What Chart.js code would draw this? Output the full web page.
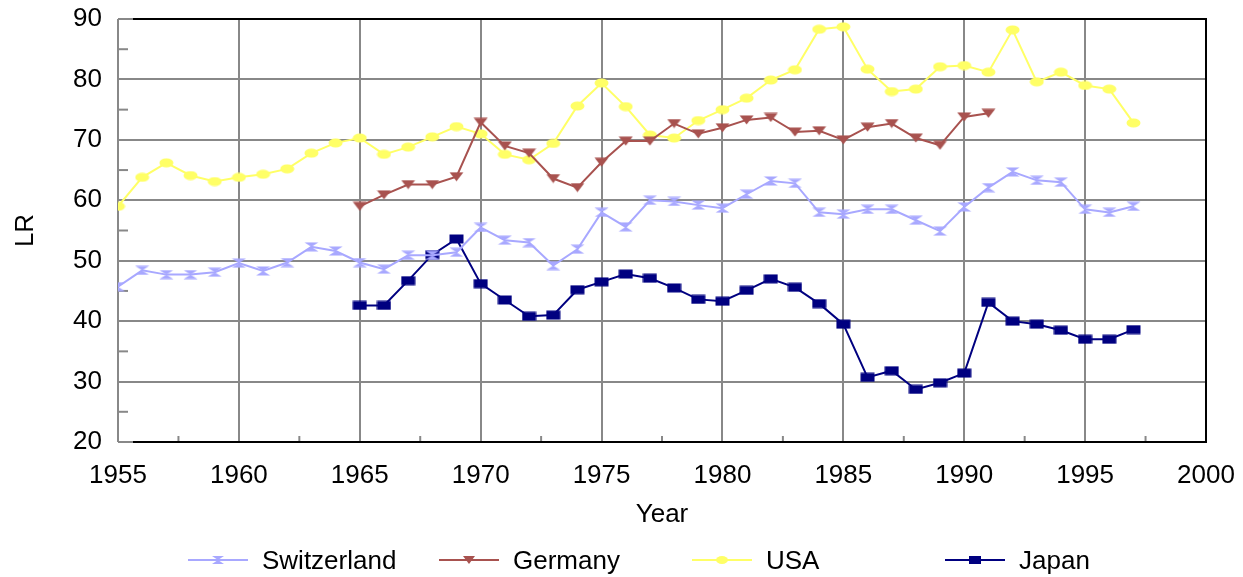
<!DOCTYPE html>
<html>
<head>
<meta charset="utf-8">
<script src="https://cdn.jsdelivr.net/npm/chart.js@4/dist/chart.umd.min.js"></script>
<style>
  html, body { margin: 0; padding: 0; background: #fff; overflow: hidden; }
  #wrap { position: relative; width: 1243px; height: 577px; }
  #legend { position: absolute; left: 0; top: 0; width: 1243px; height: 577px; pointer-events: none; }
  .item { position: absolute; top: 544px; height: 32px; display: flex; align-items: center; }
  .item span { font: 26px "Liberation Sans", Arial, sans-serif; color: #000; margin-left: 14px; }
</style>
</head>
<body>
<div id="wrap">
  <canvas id="c" width="1243" height="577"></canvas>
  <div id="legend"></div>
</div>
<script>
const years = [1955,1956,1957,1958,1959,1960,1961,1962,1963,1964,1965,1966,1967,1968,1969,1970,1971,1972,1973,1974,1975,1976,1977,1978,1979,1980,1981,1982,1983,1984,1985,1986,1987,1988,1989,1990,1991,1992,1993,1994,1995,1996,1997];

const switzerland = [45.7,48.4,47.7,47.7,48.1,49.6,48.3,49.7,52.3,51.6,49.7,48.6,50.9,50.9,51.4,55.5,53.4,53.0,49.2,51.9,58.0,55.6,60.0,59.8,59.2,58.7,61.0,63.2,62.8,58.0,57.7,58.5,58.5,56.7,54.9,58.9,62.1,64.7,63.3,63.0,58.5,58.0,59.0];

const germany = [null,null,null,null,null,null,null,null,null,null,59.0,60.9,62.6,62.6,63.9,72.9,69.0,67.8,63.6,62.1,66.3,69.8,69.8,72.7,71.0,72.0,73.3,73.7,71.3,71.5,70.0,72.1,72.7,70.3,69.1,73.8,74.4,null,null,null,null,null,null];

const usa = [59.0,63.8,66.2,64.1,63.1,63.8,64.3,65.2,67.8,69.5,70.3,67.6,68.8,70.5,72.2,71.0,67.6,66.7,69.4,75.6,79.4,75.5,70.8,70.3,73.2,75.0,76.9,79.9,81.6,88.3,88.7,81.7,78.0,78.4,82.1,82.3,81.2,88.2,79.6,81.2,79.0,78.4,72.8];

const japan = [null,null,null,null,null,null,null,null,null,null,42.6,42.6,46.7,51.0,53.6,46.2,43.5,40.8,41.0,45.2,46.5,47.8,47.1,45.5,43.6,43.3,45.1,47.0,45.6,42.9,39.5,30.7,31.8,28.7,29.8,31.4,43.1,40.0,39.5,38.5,37.0,37.0,38.6];

const seriesNames = ['Switzerland','Germany','USA','Japan'];
const seriesColors = ['#A8A8FF','#A8524F','#FFFF66','#000080'];
const seriesShapes = ['hourglass','triDown','ellipse','rect'];
const seriesValues = [switzerland, germany, usa, japan];

const xTicks = [1955,1960,1965,1970,1975,1980,1985,1990,1995,2000];
const yTicks = [20,30,40,50,60,70,80,90];

function drawShape(ctx, shape, cx, cy, w, h, color) {
  ctx.fillStyle = color;
  ctx.beginPath();
  const l = cx - w/2, r = cx + w/2, t = cy - h/2, b = cy + h/2;
  if (shape === 'hourglass') {
    ctx.moveTo(l, t); ctx.lineTo(r, t); ctx.lineTo(cx, cy); ctx.lineTo(r, b); ctx.lineTo(l, b); ctx.lineTo(cx, cy); ctx.closePath();
  } else if (shape === 'triDown') {
    ctx.moveTo(l, t); ctx.lineTo(r, t); ctx.lineTo(cx, b); ctx.closePath();
  } else if (shape === 'ellipse') {
    ctx.ellipse(cx, cy, w/2, h/2, 0, 0, Math.PI*2);
  } else {
    ctx.rect(l, t, w, h);
  }
  ctx.fill();
}

function markerCanvas(shape, color) {
  const c = document.createElement('canvas');
  c.width = 15; c.height = 10;
  drawShape(c.getContext('2d'), shape, 7.5, 5, 14, 9, color);
  return c;
}

const datasets = seriesNames.map((name, i) => ({
  label: name,
  data: years.map((yr, k) => ({ x: yr, y: seriesValues[i][k] })),
  borderColor: seriesColors[i],
  backgroundColor: seriesColors[i],
  borderWidth: 2,
  tension: 0,
  spanGaps: false,
  pointStyle: markerCanvas(seriesShapes[i], seriesColors[i]),
  pointRadius: 5,
  pointHoverRadius: 5
}));

const frame = {
  id: 'frame',
  beforeDatasetsDraw(chart) {
    const { ctx, chartArea: a, scales } = chart;
    ctx.save();
    ctx.strokeStyle = '#888888';
    ctx.lineWidth = 2;
    ctx.beginPath(); ctx.moveTo(a.left, a.top); ctx.lineTo(a.left, a.bottom); ctx.stroke();
    for (let v = 25; v < 90; v += 10) {
      const y = scales.y.getPixelForValue(v);
      ctx.beginPath(); ctx.moveTo(a.left, y); ctx.lineTo(a.left + 10, y); ctx.stroke();
    }
    for (let v = 1957.5; v < 2000; v += 5) {
      const x = scales.x.getPixelForValue(v);
      ctx.beginPath(); ctx.moveTo(x, a.bottom); ctx.lineTo(x, a.bottom - 6); ctx.stroke();
    }
    ctx.strokeStyle = '#000000';
    ctx.lineWidth = 2;
    ctx.beginPath();
    ctx.moveTo(a.left + 15, a.top); ctx.lineTo(a.right, a.top); ctx.lineTo(a.right, a.bottom); ctx.lineTo(a.left + 15, a.bottom);
    ctx.stroke();
    ctx.restore();
  }
};

const font26 = { family: '"Liberation Sans", Arial, sans-serif', size: 26 };

function zeroPad(s) { s.paddingTop = 0; s.paddingBottom = 0; s.paddingLeft = 0; s.paddingRight = 0; }

new Chart(document.getElementById('c'), {
  type: 'line',
  data: { datasets },
  plugins: [frame],
  options: {
    responsive: false,
    animation: false,
    devicePixelRatio: 1,
    layout: { padding: { top: 19, right: 37, left: 0, bottom: 0 } },
    plugins: { legend: { display: false }, tooltip: { enabled: false } },
    scales: {
      x: {
        type: 'linear',
        min: 1955, max: 2000,
        afterBuildTicks(s) { s.ticks = xTicks.map(v => ({ value: v })); },
        afterFit(s) { s.height = 135; zeroPad(s); },
        ticks: { font: font26, color: '#000', padding: 18, maxRotation: 0, autoSkip: false, callback: v => String(v) },
        grid: { color: '#888888', lineWidth: 2, drawTicks: false },
        border: { display: false },
        title: { display: true, text: 'Year', font: font26, color: '#000', padding: { top: 0, bottom: 47 } }
      },
      y: {
        type: 'linear',
        min: 20, max: 90,
        afterBuildTicks(s) { s.ticks = yTicks.map(v => ({ value: v })); },
        afterFit(s) { s.width = 118; zeroPad(s); },
        ticks: { font: font26, color: '#000', padding: 16 },
        grid: { color: '#888888', lineWidth: 2, drawTicks: false },
        border: { display: false },
        title: { display: true, text: 'LR', font: font26, color: '#000', padding: { top: 10, bottom: 0 } }
      }
    }
  }
});

const legendX = [188, 439, 692, 945];
const legend = document.getElementById('legend');
seriesNames.forEach((name, i) => {
  const item = document.createElement('div');
  item.className = 'item';
  item.style.left = legendX[i] + 'px';
  const c = document.createElement('canvas');
  c.width = 60; c.height = 14;
  const g = c.getContext('2d');
  g.strokeStyle = seriesColors[i]; g.lineWidth = 2;
  g.beginPath(); g.moveTo(0, 7); g.lineTo(60, 7); g.stroke();
  drawShape(g, seriesShapes[i], 30, 7, 12, 8, seriesColors[i]);
  item.appendChild(c);
  const sp = document.createElement('span');
  sp.textContent = name;
  item.appendChild(sp);
  legend.appendChild(item);
});
</script>
</body>
</html>
